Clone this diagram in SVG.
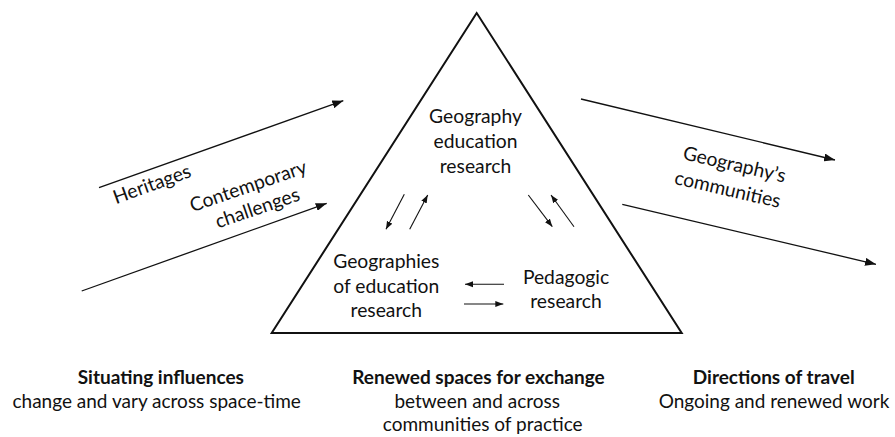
<svg xmlns="http://www.w3.org/2000/svg" width="895" height="437" viewBox="0 0 895 437">
<style>
text{font-family:Lato,"Open Sans","Liberation Sans",sans-serif;fill:#111;font-size:19px}
.t{font-size:19.3px}
.c{text-anchor:middle}
.b{font-weight:bold}
.big{stroke:#111;stroke-width:1.3;fill:none;marker-end:url(#ah)}
.sm{stroke:#111;stroke-width:1.1;fill:none;marker-end:url(#as)}
</style>
<defs>
<marker id="ah" markerUnits="userSpaceOnUse" markerWidth="12" markerHeight="8" refX="11" refY="4" orient="auto"><path d="M0,0 L11,4 L0,8 z" fill="#111"/></marker>
<marker id="as" markerUnits="userSpaceOnUse" markerWidth="9" markerHeight="7" refX="8" refY="3.5" orient="auto"><path d="M0,0.5 L8,3.5 L0,6.5 z" fill="#111"/></marker>
</defs>
<rect width="895" height="437" fill="#fff"/>
<g id="triangle"><polygon points="476.7,13 271.7,333 681.7,333" fill="none" stroke="#111" stroke-width="2"/></g>
<g id="connectors">
<line class="big" x1="99" y1="187.7" x2="343.3" y2="100.7"/>
<line class="big" x1="81.7" y1="291" x2="326.7" y2="203.3"/>
<line class="big" x1="581" y1="99" x2="835" y2="160"/>
<line class="big" x1="622.3" y1="204.3" x2="876" y2="264.3"/>
<line class="sm" x1="404.3" y1="194.3" x2="386" y2="229.3"/>
<line class="sm" x1="409.7" y1="229.3" x2="427.7" y2="195"/>
<line class="sm" x1="528.3" y1="195" x2="552.3" y2="226.7"/>
<line class="sm" x1="574" y1="226.7" x2="551" y2="195"/>
<line class="sm" x1="504" y1="284.3" x2="465" y2="284.3"/>
<line class="sm" x1="464" y1="304" x2="503.3" y2="304"/>
</g>
<g id="node-ger"><text class="c t" x="475.5" y="123">Geography</text><text class="c t" x="475.5" y="148">education</text><text class="c t" x="475.5" y="172.5">research</text></g>
<g id="node-geographies"><text class="c t" x="386.3" y="268">Geographies</text><text class="c t" x="386.3" y="292.5">of education</text><text class="c t" x="386.3" y="316.5">research</text></g>
<g id="node-pedagogic"><text class="c t" x="566" y="283.5">Pedagogic</text><text class="c t" x="566" y="308">research</text></g>
<g id="label-heritages"><text class="c t" transform="translate(154.2,190.3) rotate(-20)">Heritages</text></g>
<g id="label-contemporary"><text class="c t" transform="translate(250.3,192.3) rotate(-19)">Contemporary</text><text class="c t" transform="translate(259.5,214.2) rotate(-19)">challenges</text></g>
<g id="label-communities"><text class="c t" transform="translate(733,170.8) rotate(13)">Geography’s</text><text class="c t" transform="translate(726.2,195.8) rotate(13)">communities</text></g>
<g id="caption-left"><text class="c b" x="160.8" y="384">Situating influences</text><text class="c" x="156.7" y="407.5">change and vary across space-time</text></g>
<g id="caption-mid"><text class="c b" x="478.5" y="384">Renewed spaces for exchange</text><text class="c" x="477.2" y="407.5">between and across</text><text class="c" x="482.7" y="431">communities of practice</text></g>
<g id="caption-right"><text class="c b" x="773.7" y="384">Directions of travel</text><text class="c" x="774" y="407.5">Ongoing and renewed work</text></g>
</svg>
